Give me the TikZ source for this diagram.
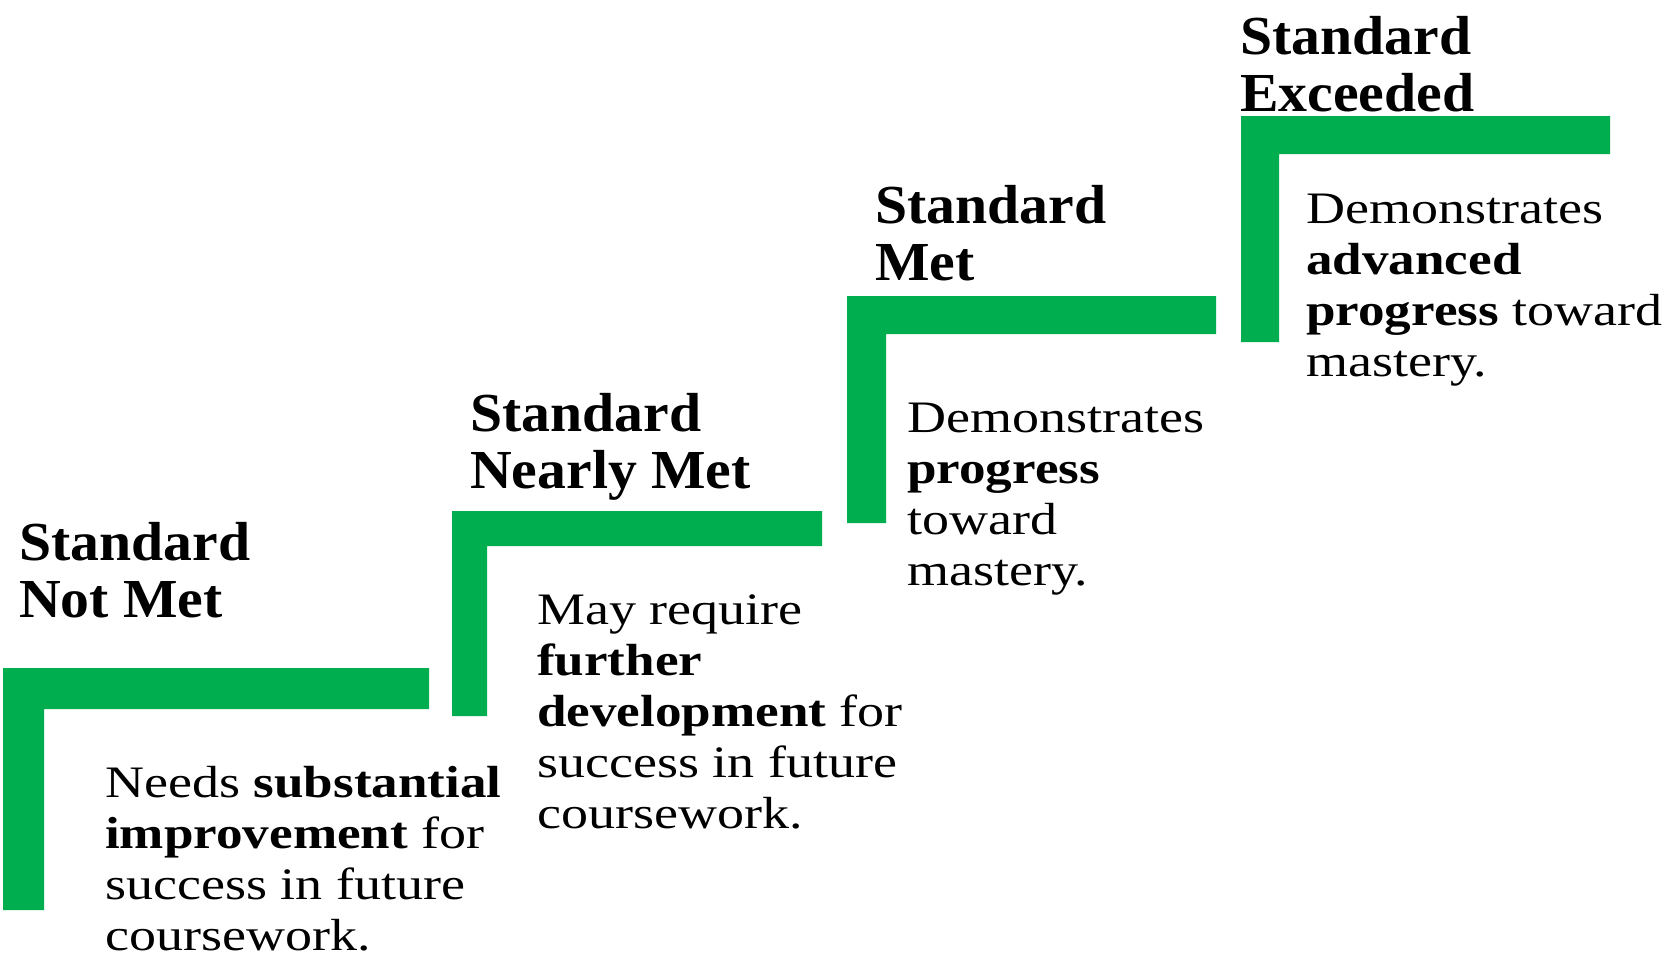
\documentclass[tikz,border=0pt]{standalone}
\usepackage{fontspec}
\setmainfont{Liberation Serif}
\newfontfamily\bodyfont{Liberation Serif}[FakeStretch=1.2, BoldFeatures={FakeStretch=1.18}]
\newfontfamily\titlefont{Liberation Serif}[FakeStretch=1.05]
\definecolor{stepgreen}{RGB}{0,174,80}
\tikzset{
  bar/.style={fill=stepgreen, draw=none},
  title/.style={anchor=base west, inner sep=0pt, align=left,
    font=\titlefont\bfseries\fontsize{55}{57}\selectfont, text=black},
  body/.style={anchor=base west, inner sep=0pt, align=left,
    font=\bodyfont\fontsize{45}{51}\selectfont, text=black},
}
\begin{document}
\begin{tikzpicture}[x=1pt,y=-1pt]
\useasboundingbox (0,0) rectangle (1671,958);
% step 1 (anchors are at the baseline of the last line)
\fill[bar] (3,668) -- (429,668) -- (429,709) -- (44,709) -- (44,910) -- (3,910) -- cycle;
\node[title] (t1) at (19,617) {Standard\\Not Met};
\node[body] (b1) at (105,950) {Needs \textbf{substantial}\\\textbf{improvement} for\\success in future\\coursework.};
% step 2
\fill[bar] (452,511) -- (822,511) -- (822,546) -- (487,546) -- (487,716) -- (452,716) -- cycle;
\node[title] (t2) at (470,488) {Standard\\Nearly Met};
\node[body] (b2) at (537,828) {May require\\\textbf{further}\\\textbf{development} for\\success in future\\coursework.};
% step 3
\fill[bar] (847,296) -- (1216,296) -- (1216,334) -- (886,334) -- (886,523) -- (847,523) -- cycle;
\node[title] (t3) at (875,280) {Standard\\Met};
\node[body] (b3) at (907,585) {Demonstrates\\\textbf{progress}\\toward\\mastery.};
% step 4
\fill[bar] (1241,116) -- (1610,116) -- (1610,154) -- (1279,154) -- (1279,342) -- (1241,342) -- cycle;
\node[title] (t4) at (1240,111) {Standard\\Exceeded};
\node[body] (b4) at (1306,376) {Demonstrates\\\textbf{advanced}\\\textbf{progress} toward\\mastery.};
\end{tikzpicture}
\end{document}
